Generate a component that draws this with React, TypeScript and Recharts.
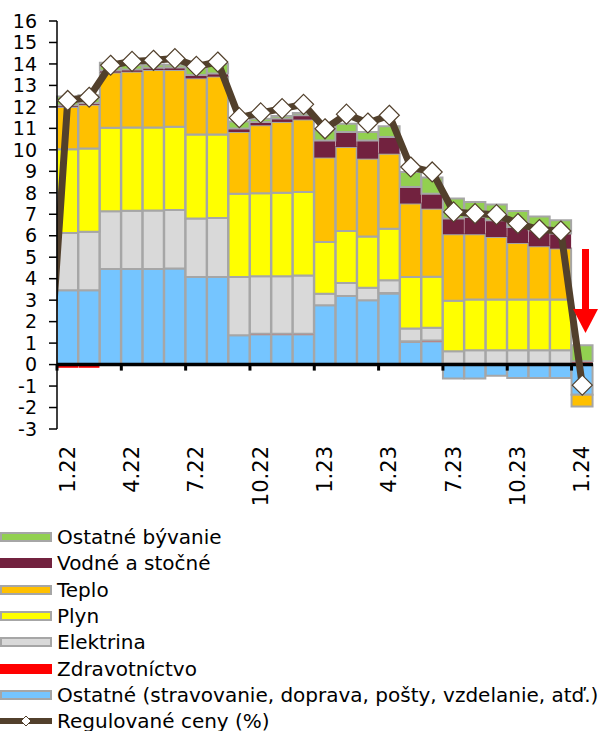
import React from 'react';
import { ComposedChart, Bar, Line, XAxis, YAxis, ReferenceLine } from 'recharts';

const FONT = '"DejaVu Sans", Verdana, sans-serif';

const months = ['1.22','2.22','3.22','4.22','5.22','6.22','7.22','8.22','9.22','10.22','11.22','12.22','1.23','2.23','3.23','4.23','5.23','6.23','7.23','8.23','9.23','10.23','11.23','12.23','1.24'];
const tickLabels = ['1.22','4.22','7.22','10.22','1.23','4.23','7.23','10.23','1.24'];
const yTicks = [-3,-2,-1,0,1,2,3,4,5,6,7,8,9,10,11,12,13,14,15,16];

const ostatne = [3.46,3.46,4.45,4.45,4.45,4.47,4.08,4.08,1.37,1.40,1.40,1.40,2.76,3.19,2.99,3.30,1.05,1.08,-0.65,-0.65,-0.52,-0.63,-0.63,-0.63,-1.40];
const zdravotnictvo = [-0.15,-0.15,-0.05,null,null,null,null,null,null,0.04,0.04,0.04,null,null,null,0.03,0.04,0.04,0.04,0.04,0.04,0.04,0.04,0.04,0.10];
const elektrina = [2.67,2.72,2.69,2.71,2.72,2.73,2.72,2.75,2.71,2.67,2.67,2.71,0.54,0.61,0.59,0.60,0.59,0.60,0.58,0.63,0.63,0.63,0.63,0.63,null];
const plyn = [3.90,3.88,3.89,3.88,3.87,3.87,3.91,3.88,3.88,3.87,3.89,3.89,2.41,2.42,2.39,2.40,2.40,2.37,2.35,2.36,2.36,2.36,2.36,2.36,null];
const teplo = [1.97,2.04,2.57,2.60,2.68,2.65,2.62,2.70,2.87,3.16,3.30,3.37,3.93,3.91,3.62,3.49,3.42,3.17,3.10,3.04,2.91,2.63,2.48,2.37,-0.55];
const vodne = [0.08,0.08,0.10,0.10,0.10,0.12,0.16,0.15,0.16,0.16,0.16,0.20,0.80,0.70,0.85,0.78,0.77,0.70,0.73,0.80,0.78,0.75,0.74,0.70,0.05];
const ostatneByvanie = [0.40,0.36,0.36,0.20,0.15,0.12,0.40,0.45,0.33,0.15,0.12,0.10,0.47,0.39,0.39,0.50,0.70,0.75,0.93,0.70,0.74,0.74,0.65,0.62,0.75];
const regulovane = [12.30,12.45,13.94,14.12,14.17,14.25,13.89,14.09,11.50,11.72,11.92,12.12,10.98,11.66,11.25,11.61,9.20,8.97,7.11,7.03,6.98,6.57,6.29,6.22,-0.96];
const regulovanePrev = -2.5; // 12.21, only its segment into 1.22 is visible

const BORDER = '#A6A6A6';
const LINE_COLOR = '#52402C';

const barSeries = [
  { key: 'ostatne', name: 'Ostatné (stravovanie, doprava, pošty, vzdelanie, atď.)', color: '#75C5FF', border: true, values: ostatne },
  { key: 'zdravotnictvo', name: 'Zdravotníctvo', color: '#FF0000', border: false, values: zdravotnictvo },
  { key: 'elektrina', name: 'Elektrina', color: '#D9D9D9', border: true, values: elektrina },
  { key: 'plyn', name: 'Plyn', color: '#FFFF00', border: true, values: plyn },
  { key: 'teplo', name: 'Teplo', color: '#FFC000', border: true, values: teplo },
  { key: 'vodne', name: 'Vodné a stočné', color: '#72223F', border: false, values: vodne },
  { key: 'ostatneByvanie', name: 'Ostatné bývanie', color: '#92D050', border: true, values: ostatneByvanie },
];

const data = months.map((m, i) => {
  const row: any = { month: m };
  barSeries.forEach((s) => { row[s.key] = s.values[i]; });
  return row;
});

const lineData = [{ x: -0.5, v: regulovanePrev }, ...regulovane.map((v, i) => ({ x: i + 0.5, v }))];
const boundaries = tickLabels.map((t) => months.indexOf(t));

const XTick = (props: any) => {
  const { x, y, payload } = props;
  return (
    <text
      transform={`translate(${x},${y + 17}) rotate(-90)`}
      textAnchor="end"
      dominantBaseline="central"
      fontSize={21}
      fontFamily={FONT}
      fill="#000"
    >
      {payload.value}
    </text>
  );
};

const Diamond = (props: any) => {
  const { cx, cy, index } = props;
  if (index === 0 || cx == null || cy == null) return <g key={`d-${index}`} />;
  const r = 10;
  return (
    <polygon
      key={`d-${index}`}
      points={`${cx},${cy - r} ${cx + r},${cy} ${cx},${cy + r} ${cx - r},${cy}`}
      fill="#FFFFFF"
      stroke={LINE_COLOR}
      strokeWidth={1.2}
    />
  );
};

const legendItems = [...barSeries].reverse();

const Legend = () => (
  <div style={{ position: 'absolute', left: 0, top: 524, fontFamily: FONT, fontSize: 20, color: '#000' }}>
    {legendItems.map((s) => (
      <div key={s.key} style={{ height: 26.3, display: 'flex', alignItems: 'center' }}>
        <div style={{ width: 52, height: 10, boxSizing: 'border-box', background: s.color, border: s.border ? `2px solid ${BORDER}` : 'none', marginRight: 5 }} />
        <span style={{ whiteSpace: 'nowrap' }}>{s.name}</span>
      </div>
    ))}
    <div style={{ height: 26.3, display: 'flex', alignItems: 'center' }}>
      <svg width={52} height={14} style={{ marginRight: 5 }}>
        <line x1={0} y1={7} x2={52} y2={7} stroke={LINE_COLOR} strokeWidth={6} />
        <polygon points="26,2 31,7 26,12 21,7" fill="#fff" stroke={LINE_COLOR} strokeWidth={1} />
      </svg>
      <span style={{ whiteSpace: 'nowrap' }}>Regulované ceny (%)</span>
    </div>
  </div>
);

export default function App() {
  return (
    <div style={{ position: 'absolute', left: 0, top: 0, width: 607, height: 731, background: '#fff', overflow: 'hidden' }}>
      <ComposedChart
        width={607}
        height={520}
        data={data}
        margin={{ top: 21, right: 14, bottom: 0, left: 0 }}
        barCategoryGap={0}
        barGap={0}
        stackOffset="sign"
      >
        <XAxis
          xAxisId="cat"
          dataKey="month"
          ticks={tickLabels}
          interval={0}
          tick={<XTick />}
          tickLine={false}
          axisLine={false}
          height={91}
          tickSize={0}
          tickMargin={0}
        />
        <XAxis xAxisId="num" type="number" dataKey="x" domain={[0, 25]} allowDataOverflow hide />
        <YAxis
          domain={[-3, 16]}
          ticks={yTicks}
          interval={0}
          width={57}
          allowDataOverflow
          axisLine={{ stroke: '#000', strokeWidth: 1.5 }}
          tickLine={{ stroke: '#000', strokeWidth: 1.5 }}
          tickSize={8}
          tickMargin={12}
          tick={{ fontSize: 19, fill: '#000', fontFamily: FONT }}
        />
        {barSeries.map((s) => (
          <Bar
            key={s.key}
            xAxisId="cat"
            dataKey={s.key}
            name={s.name}
            stackId="a"
            fill={s.color}
            stroke={s.border ? BORDER : 'none'}
            strokeWidth={s.border ? 2 : 0}
            isAnimationActive={false}
          />
        ))}
        <ReferenceLine xAxisId="cat" y={0} stroke="#000" strokeWidth={3.5} />
        {boundaries.map((b) => (
          <ReferenceLine
            key={`tm-${b}`}
            xAxisId="num"
            segment={[{ x: b, y: 0 }, { x: b, y: -0.28 }]}
            stroke="#000"
            strokeWidth={3}
          />
        ))}
        <Line
          xAxisId="num"
          data={lineData}
          dataKey="v"
          name="Regulované ceny (%)"
          type="linear"
          stroke={LINE_COLOR}
          strokeWidth={7}
          strokeLinejoin="round"
          dot={<Diamond />}
          activeDot={false}
          isAnimationActive={false}
        />
      </ComposedChart>
      <svg width={607} height={731} style={{ position: 'absolute', left: 0, top: 0, pointerEvents: 'none' }}>
        <rect x={582} y={249} width={7} height={62} fill="#FF0000" />
        <polygon points="573,309 598,309 585.5,333" fill="#FF0000" />
      </svg>
      <Legend />
    </div>
  );
}
